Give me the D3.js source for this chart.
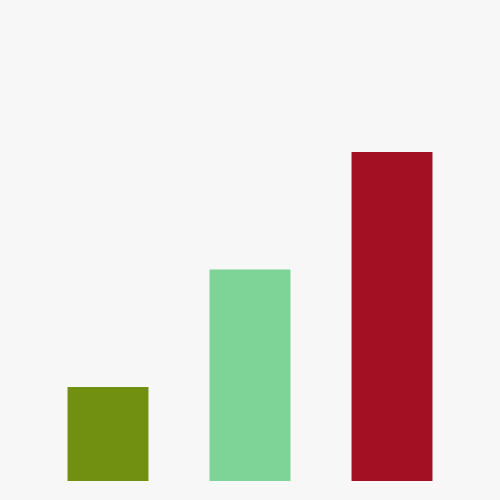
<!DOCTYPE html>
<html><head><meta charset="utf-8">
<script src="https://cdn.jsdelivr.net/npm/d3@7"></script>
<style>html,body{margin:0;padding:0;background:#f7f7f7;}svg{display:block;}</style>
</head><body>
<script>
const categories = ["A", "B", "C"];
const values = [4, 9, 14];
const colors = ["#718f10", "#7ed396", "#a30f23"];

const W = 500, H = 500;
const svg = d3.select("body").append("svg").attr("width", W).attr("height", H);
svg.append("rect").attr("width", W).attr("height", H).attr("fill", "#f7f7f7");

const x = d3.scaleBand().domain(categories).range([0, W]).paddingInner(0.43).paddingOuter(0.4755);
const y = d3.scaleLinear().domain([0, 14]).range([481, 152]);

svg.selectAll("rect.bar").data(values).join("rect")
  .attr("class", "bar")
  .attr("x", (d, i) => x(categories[i]))
  .attr("width", x.bandwidth())
  .attr("y", d => y(d))
  .attr("height", d => y(0) - y(d))
  .attr("fill", (d, i) => colors[i]);
</script>
</body></html>
